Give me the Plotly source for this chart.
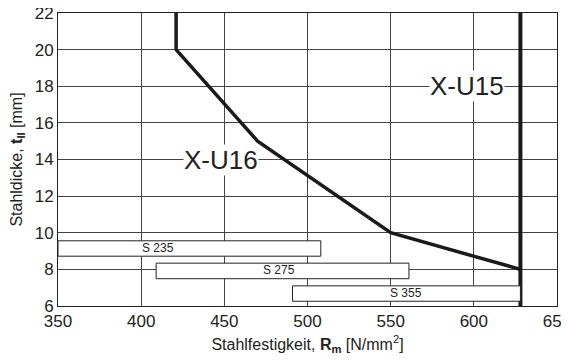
import plotly.graph_objects as go

# X-U16 limit curve
xu16_rm = [421, 421, 470, 550, 628]
xu16_t = [22, 20, 15, 10, 8]
# X-U15 limit (vertical)
xu15_rm = [628, 628]
xu15_t = [6, 22]

# steel grade ranges
grades = ["S 235", "S 275", "S 355"]
grade_rm_min = [350, 409, 491]
grade_rm_max = [508, 561, 628]
grade_t_min = [8.72, 7.49, 6.26]
grade_t_max = [9.56, 8.34, 7.10]
grade_label_rm = [410, 483, 559]

x_ticks = [350, 400, 450, 500, 550, 600, 650]
y_ticks = [6, 8, 10, 12, 14, 16, 18, 20, 22]

FONT = "Arial"

fig = go.Figure()
fig.add_trace(go.Scatter(x=xu16_rm, y=xu16_t, mode="lines",
                         line=dict(color="#1a1a1a", width=3.5), showlegend=False,
                         hoverinfo="skip"))
fig.add_trace(go.Scatter(x=xu15_rm, y=xu15_t, mode="lines",
                         line=dict(color="#1a1a1a", width=4), showlegend=False,
                         hoverinfo="skip"))

for name, x0, x1, y0, y1, lx in zip(grades, grade_rm_min, grade_rm_max,
                                     grade_t_min, grade_t_max, grade_label_rm):
    fig.add_shape(type="rect", x0=x0, x1=x1, y0=y0, y1=y1, xref="x", yref="y",
                  fillcolor="white", line=dict(color="#222", width=1), layer="above")
    fig.add_annotation(x=lx, y=(y0 + y1) / 2, text=name, showarrow=False,
                       font=dict(size=12, color="#222", family=FONT), yshift=1)

fig.add_annotation(x=448, y=14, text="X-U16", showarrow=False, bgcolor="white",
                   font=dict(size=26, color="#222", family=FONT), borderpad=0)
fig.add_annotation(x=596, y=18, text="X-U15", showarrow=False, bgcolor="white",
                   font=dict(size=26, color="#222", family=FONT), borderpad=0)

fig.update_layout(
    width=553, height=347,
    margin=dict(l=50, r=4, t=5, b=49),
    paper_bgcolor="white", plot_bgcolor="white",
    font=dict(family=FONT, color="#222", size=17),
    xaxis=dict(range=[350, 650], tickvals=x_ticks, showgrid=True, gridcolor="#444",
               gridwidth=1, zeroline=False, showline=True, linecolor="#222", linewidth=1,
               mirror=True, ticks="", tickfont=dict(size=17, family=FONT), automargin=False,
               ticklabeloverflow="allow",
               title=dict(text="Stahlfestigkeit, <b>R<sub>m</sub></b> [N/mm<sup>2</sup>]",
                          font=dict(size=16, family=FONT), standoff=10)),
    yaxis=dict(range=[6, 22], tickvals=y_ticks, showgrid=True, gridcolor="#444",
               gridwidth=1, zeroline=False, showline=True, linecolor="#222", linewidth=1,
               mirror=True, ticks="", tickfont=dict(size=17, family=FONT), automargin=False,
               ticklabeloverflow="allow",
               title=dict(text="Stahldicke, <b>t<sub>II</sub></b> [mm]",
                          font=dict(size=16, family=FONT), standoff=9)),
)

fig.write_html("out.html")
